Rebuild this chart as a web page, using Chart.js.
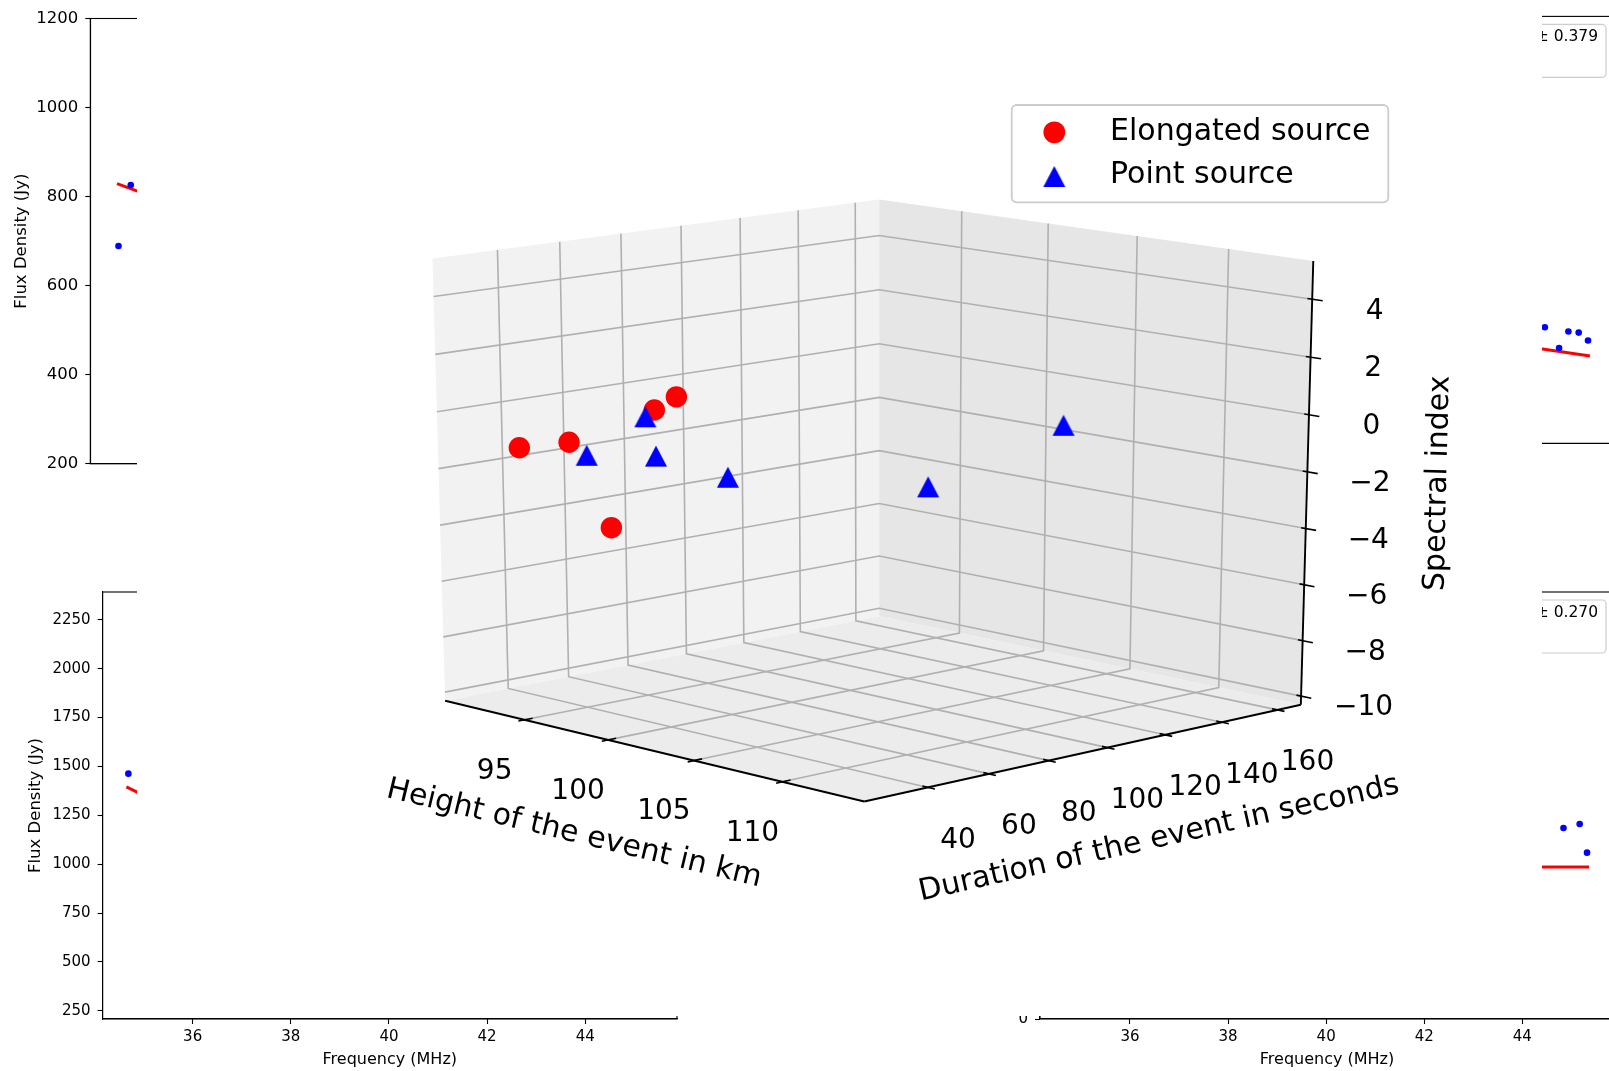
<!DOCTYPE html>
<html><head><meta charset="utf-8">
<script src="https://cdn.jsdelivr.net/npm/chart.js@4.4.0/dist/chart.umd.min.js"></script>
<style>
html,body{margin:0;padding:0;background:#fff;overflow:hidden;width:1609px;height:1071px;}
canvas.full{position:absolute;left:0;top:0;}
#c3d{position:absolute;left:137px;top:0;}
</style></head><body>
<canvas id="tl" class="full" width="1700" height="1100"></canvas>
<canvas id="bl" class="full" width="1700" height="1100"></canvas>
<canvas id="tr" class="full" width="1700" height="1100"></canvas>
<canvas id="br" class="full" width="1700" height="1100"></canvas>
<canvas id="c3d" width="1405" height="1016"></canvas>
<script>
// ================= DATA =================
const freqTicks = [36, 38, 40, 42, 44];
// top-left panel
const tlFreq = [34.74, 34.99];
const tlFlux = [689, 826];
const tlFitFreq = [34.71, 35.50];
const tlFitFlux = [829, 797];
const tlFluxTicks = [200, 400, 600, 800, 1000, 1200];
// bottom-left panel
const blFreq = [34.69];
const blFlux = [1463];
const blFitFreq = [34.65, 35.20];
const blFitFlux = [1395, 1328];
const blFluxTicks = [250, 500, 750, 1000, 1250, 1500, 1750, 2000, 2250];
// top-right panel
const trFreq = [44.46, 44.75, 44.94, 45.15, 45.34];
const trFlux = [408, 335, 393, 389, 361];
const trFitFreq = [44.00, 45.38];
const trFitFlux = [342, 307];
const trFluxTicks = [0, 250, 500, 750, 1000, 1250, 1500];
const trLegendText = '± 0.379';
// bottom-right panel
const brFreq = [44.84, 45.17, 45.32];
const brFlux = [984, 1005, 857];
const brFitFreq = [44.00, 45.36];
const brFitFlux = [783, 783];
const brFluxTicks = [0, 500, 1000, 1500, 2000];
const brLegendText = '± 0.270';

// 3D scatter
const heightTicks = [95, 100, 105, 110];
const durationTicks = [40, 60, 80, 100, 120, 140, 160];
const indexTicks = [-10, -8, -6, -4, -2, 0, 2, 4];
const elongHeight = [93.44, 95.68, 99.26, 100.91, 98.47];
const elongDuration = [28, 32, 40, 38, 30];
const elongIndex = [-1.04, -0.67, 0.70, 1.36, -3.28];
const pointHeight = [95.97, 96.90, 100.23, 102.56, 102.81, 105.54];
const pointDuration = [36, 50, 35, 45, 110, 140];
const pointIndex = [-1.16, 0.04, -0.69, -1.33, -2.82, -0.86];
const legendLabels = ['Elongated source', 'Point source'];

// ================= 3D PROJECTION (fitted to the axes box) =================
const LIM = {h: [90.1, 114.5], d: [19.5, 168.5], s: [-10.3125, 5.3125]};
const [XA, XB] = LIM.h, [YA, YB] = LIM.d, [ZA, ZB] = LIM.s;
const ANCHORS = [
  [XA, YA, ZA, 444, 701], [XB, YA, ZA, 865, 802.3], [XB, YB, ZA, 1300.7, 704.3], [XA, YB, ZA, 879.3, 616],
  [XA, YA, ZB, 434.3, 256], [XA, YB, ZB, 879.3, 199.3], [XB, YB, ZB, 1311.7, 260],
  [95, YA, ZA, 525, 720.5], [100, YA, ZA, 609.3, 740.8], [105, YA, ZA, 695, 761.4], [110, YA, ZA, 783.3, 782.6],
  [XB, 40, ZA, 926.7, 788.4], [XB, 60, ZA, 986.7, 774.9], [XB, 80, ZA, 1048.3, 761.1], [XB, 100, ZA, 1107.7, 747.7],
  [XB, 120, ZA, 1165, 734.8], [XB, 140, ZA, 1222.7, 721.8], [XB, 160, ZA, 1278.3, 709.3],
  [XB, YB, 4, 1310.7, 299.3], [XB, YB, 2, 1309.3, 356.7], [XB, YB, 0, 1307.9, 413.3], [XB, YB, -2, 1306.5, 470.7],
  [XB, YB, -4, 1305.1, 528.3], [XB, YB, -6, 1303.7, 585], [XB, YB, -8, 1302.3, 640.7], [XB, YB, -10, 1300.9, 696.7],
  [XA, YA, 4, 435.2, 296], [XA, YA, 2, 436.5, 353.7], [XA, YA, 0, 437.7, 410.7], [XA, YA, -2, 439, 467.3],
  [XA, YA, -4, 440.2, 524.3], [XA, YA, -6, 441.4, 579],
  [XA, YB, 4, 879.3, 235.7], [XA, YB, 2, 879.3, 290], [XA, YB, 0, 879.3, 344], [XA, YB, -2, 879.3, 397.3],
  [XA, YB, -4, 879.3, 450], [XA, YB, -6, 879.3, 503.3], [XA, YB, -8, 879.3, 556], [XA, YB, -10, 879.3, 607.7],
  [XA, 40, ZB, 495.7, 250.3], [XA, 60, ZB, 557.7, 242.3], [XA, 80, ZB, 619, 234.7], [XA, 100, ZB, 679, 227],
  [XA, 120, ZB, 738.3, 219.3], [XA, 140, ZB, 796, 212], [XA, 160, ZB, 852.7, 204.3],
  [95, YB, ZB, 965.7, 211.4], [100, YB, ZB, 1051.7, 223.5], [105, YB, ZB, 1140.4, 236], [110, YB, ZB, 1232.3, 248.9]
];
const U0 = 870, V0 = 500, SC = 450;
function norm(h, d, s) { return [(h - XA) / (XB - XA), (d - YA) / (YB - YA), (s - ZA) / (ZB - ZA)]; }
function solveLinear(M) {
  const n = M.length;
  for (let i = 0; i < n; i++) {
    let p = i;
    for (let r = i + 1; r < n; r++) if (Math.abs(M[r][i]) > Math.abs(M[p][i])) p = r;
    [M[i], M[p]] = [M[p], M[i]];
    for (let r = 0; r < n; r++) {
      if (r === i) continue;
      const f = M[r][i] / M[i][i];
      for (let c = i; c <= n; c++) M[r][c] -= f * M[i][c];
    }
  }
  return M.map((row, i) => row[n] / row[i]);
}
const PM = (function fit() {
  const n = 11, N = [...Array(n)].map(() => Array(n + 1).fill(0));
  const add = (row, b) => { for (let i = 0; i < n; i++) { for (let j = 0; j < n; j++) N[i][j] += row[i] * row[j]; N[i][n] += row[i] * b; } };
  for (const [h, d, s, U, V] of ANCHORS) {
    const [X, Y, Z] = norm(h, d, s), u = (U - U0) / SC, v = (V - V0) / SC;
    add([X, Y, Z, 1, 0, 0, 0, 0, -u * X, -u * Y, -u * Z], u);
    add([0, 0, 0, 0, X, Y, Z, 1, -v * X, -v * Y, -v * Z], v);
  }
  return solveLinear(N);
})();
function project(h, d, s) {
  const [X, Y, Z] = norm(h, d, s), p = PM;
  const w = p[8] * X + p[9] * Y + p[10] * Z + 1;
  return {x: U0 + SC * (p[0] * X + p[1] * Y + p[2] * Z + p[3]) / w,
          y: V0 + SC * (p[4] * X + p[5] * Y + p[6] * Z + p[7]) / w};
}

// ================= COMMON =================
Chart.defaults.font.family = "'DejaVu Sans', sans-serif";
Chart.defaults.color = '#000';
const FONT = "'DejaVu Sans', sans-serif";

const framePlugin = {
  id: 'frame',
  afterDraw(chart) {
    const {ctx, chartArea: a} = chart;
    ctx.save(); ctx.strokeStyle = '#000'; ctx.lineWidth = 1.1;
    ctx.strokeRect(a.left, a.top, a.right - a.left, a.bottom - a.top);
    const lg = chart.options.plugins.boxText;
    if (lg && lg.text) {
      const r = a.right - 8, t = a.top + 8, b = t + 53, l = a.left + 250;
      ctx.beginPath(); ctx.roundRect(l, t, r - l, b - t, 4);
      ctx.fillStyle = 'rgba(255,255,255,0.8)'; ctx.fill();
      ctx.strokeStyle = '#cccccc'; ctx.lineWidth = 1.2; ctx.stroke();
      ctx.fillStyle = '#000'; ctx.font = '15.5px ' + FONT; ctx.textAlign = 'right'; ctx.textBaseline = 'middle';
      ctx.fillText(lg.text, r - 8, t + 13);
    }
    ctx.restore();
  }
};

function panel(id, area, o) {
  const W = 1700, H = 1100, XH = 50;
  const datasets = [
    {data: o.fitF.map((f, i) => ({x: f, y: o.fitV[i]})), showLine: true, borderColor: '#ff0000', borderWidth: 3, pointRadius: 0, order: 1},
    {data: o.f.map((f, i) => ({x: f, y: o.v[i]})), pointRadius: 3.3, backgroundColor: '#0000ff', borderWidth: 0, order: 0}
  ];
  const tickGrid = {drawOnChartArea: false, drawTicks: true, tickLength: 5, color: '#000', tickWidth: 1.1};
  const border = {display: true, color: '#000', width: 1.1};
  return new Chart(document.getElementById(id), {
    type: 'scatter',
    data: {datasets},
    options: {
      responsive: false, animation: false, devicePixelRatio: 1, events: [],
      layout: {autoPadding: false, padding: {left: area.l - o.yw, top: area.t, right: W - area.r, bottom: H - area.b - XH}},
      plugins: {legend: {display: false}, tooltip: {enabled: false}, boxText: {text: o.legend || ''}},
      scales: {
        x: {type: 'linear', min: 34.165, max: 45.87,
            afterFit: s => { s.height = XH; },
            afterBuildTicks: s => { s.ticks = freqTicks.map(v => ({value: v})); },
            ticks: {font: {size: o.xfs}, color: '#000', padding: 4, maxRotation: 0, autoSkip: false, callback: v => String(v)},
            grid: tickGrid, border,
            title: {display: true, text: 'Frequency (MHz)', font: {size: 16}, color: '#000', padding: {top: 0, bottom: 0}}},
        y: {type: 'linear', min: o.ymin, max: o.ymax,
            afterFit: s => { s.width = o.yw; },
            afterBuildTicks: s => { s.ticks = o.yticks.map(v => ({value: v})); },
            ticks: {font: {size: o.yfs}, color: '#000', padding: 7, callback: v => String(v)},
            grid: tickGrid, border,
            title: {display: true, text: 'Flux Density (Jy)', font: {size: 16.5}, color: '#000', padding: {top: o.ylp, bottom: 0}}}
      }
    },
    plugins: [framePlugin]
  });
}

panel('tl', {l: 90.3, t: 18.5, r: 664.3, b: 463.8},
  {f: tlFreq, v: tlFlux, fitF: tlFitFreq, fitV: tlFitFlux, ymin: 200, ymax: 1200, yticks: tlFluxTicks, yw: 90.3, ylp: 12, yfs: 16.5, xfs: 15});
panel('bl', {l: 102.6, t: 592, r: 677, b: 1019},
  {f: blFreq, v: blFlux, fitF: blFitFreq, fitV: blFitFlux, ymin: 208, ymax: 2392, yticks: blFluxTicks, yw: 102.6, ylp: 26, yfs: 15, xfs: 15});
panel('tr', {l: 1040, t: 16.4, r: 1614, b: 443.3},
  {f: trFreq, v: trFlux, fitF: trFitFreq, fitV: trFitFlux, ymin: 0, ymax: 1500, yticks: trFluxTicks, yw: 100, ylp: 20, yfs: 15, xfs: 15, legend: trLegendText});
panel('br', {l: 1040, t: 592, r: 1614, b: 1019},
  {f: brFreq, v: brFlux, fitF: brFitFreq, fitV: brFitFlux, ymin: 0, ymax: 2200, yticks: brFluxTicks, yw: 100, ylp: 20, yfs: 15, xfs: 15, legend: brLegendText});

// ================= 3D CHART =================
function triangle(w, h, color) {
  const c = document.createElement('canvas');
  c.width = Math.ceil(w) + 2; c.height = Math.ceil(h) + 2;
  const g = c.getContext('2d'); g.fillStyle = color;
  g.beginPath(); g.moveTo(c.width / 2, 1); g.lineTo(c.width / 2 + w / 2, 1 + h); g.lineTo(c.width / 2 - w / 2, 1 + h); g.closePath(); g.fill();
  return c;
}
const triImg = triangle(22, 21, '#0000ff');

const threeD = {
  id: 'threeD',
  beforeDraw(chart) { const c = chart.ctx; c.save(); c.fillStyle = '#fff'; c.fillRect(0, 0, chart.width, chart.height); c.restore(); },
  beforeDatasetsDraw(chart) {
    const ctx = chart.ctx, sx = chart.scales.x, sy = chart.scales.y;
    const P = (h, d, s) => { const q = project(h, d, s); return [sx.getPixelForValue(q.x), sy.getPixelForValue(q.y)]; };
    const poly = (pts, fill) => { ctx.beginPath(); pts.forEach((p, i) => { const q = P(...p); i ? ctx.lineTo(q[0], q[1]) : ctx.moveTo(q[0], q[1]); }); ctx.closePath(); ctx.fillStyle = fill; ctx.fill(); };
    const line = (pts) => { ctx.beginPath(); pts.forEach((p, i) => { const q = P(...p); i ? ctx.lineTo(q[0], q[1]) : ctx.moveTo(q[0], q[1]); }); ctx.stroke(); };
    ctx.save();
    poly([[XA, YA, ZA], [XA, YB, ZA], [XA, YB, ZB], [XA, YA, ZB]], '#f2f2f2');
    poly([[XA, YB, ZA], [XB, YB, ZA], [XB, YB, ZB], [XA, YB, ZB]], '#e6e6e6');
    poly([[XA, YA, ZA], [XB, YA, ZA], [XB, YB, ZA], [XA, YB, ZA]], '#ececec');
    ctx.strokeStyle = '#b0b0b0'; ctx.lineWidth = 1.6; ctx.lineJoin = 'miter';
    heightTicks.forEach(h => line([[h, YA, ZA], [h, YB, ZA], [h, YB, ZB]]));
    durationTicks.forEach(d => line([[XB, d, ZA], [XA, d, ZA], [XA, d, ZB]]));
    indexTicks.forEach(s => line([[XA, YA, s], [XA, YB, s], [XB, YB, s]]));
    ctx.strokeStyle = '#000'; ctx.lineWidth = 1.9;
    line([[XA, YA, ZA], [XB, YA, ZA]]); line([[XB, YA, ZA], [XB, YB, ZA]]); line([[XB, YB, ZA], [XB, YB, ZB]]);
    ctx.lineWidth = 1.6;
    heightTicks.forEach(h => line([[h, YA - 2.0, ZA], [h, YA + 2.6, ZA]]));
    durationTicks.forEach(d => line([[XB - 0.3, d, ZA], [XB + 0.38, d, ZA]]));
    indexTicks.forEach(s => line([[XB - 0.25, YB, s], [XB + 0.55, YB, s]]));
    ctx.fillStyle = '#000'; ctx.textAlign = 'center'; ctx.textBaseline = 'middle'; ctx.font = '28px ' + FONT;
    const lab = (t) => String(t).replace('-', '\u2212');
    heightTicks.forEach(h => { const q = P(h, YA, ZA); ctx.fillText(lab(h), q[0] - 30, q[1] + 51.5); });
    durationTicks.forEach(d => { const q = P(XB, d, ZA); ctx.fillText(lab(d), q[0] + 30, q[1] + 53); });
    indexTicks.forEach(s => { const q = P(XB, YB, s); ctx.fillText(lab(s), q[0] + 62.5, q[1] + 12); });
    ctx.font = '30px ' + FONT;
    const title = (t, X, Y, deg) => { ctx.save(); ctx.translate(sx.getPixelForValue(X), sy.getPixelForValue(Y)); ctx.rotate(deg * Math.PI / 180); ctx.fillText(t, 0, 0); ctx.restore(); };
    title('Height of the event in km', 574, 834, 13.5);
    title('Duration of the event in seconds', 1159, 839, -12.68);
    title('Spectral index', 1438.3, 483.3, -88.6);
    ctx.restore();
  },
  afterDatasetsDraw(chart) {
    const ctx = chart.ctx, sx = chart.scales.x, sy = chart.scales.y;
    const X = v => sx.getPixelForValue(v), Y = v => sy.getPixelForValue(v);
    ctx.save();
    ctx.beginPath(); ctx.roundRect(X(1011.7), Y(105), X(1388.3) - X(1011.7), Y(202.3) - Y(105), 5);
    ctx.fillStyle = 'rgba(255,255,255,0.8)'; ctx.fill(); ctx.strokeStyle = '#cccccc'; ctx.lineWidth = 1.8; ctx.stroke();
    ctx.fillStyle = '#ff0000'; ctx.beginPath(); ctx.arc(X(1054.3), Y(132.3), 10.9, 0, Math.PI * 2); ctx.fill();
    ctx.drawImage(triImg, X(1054.3) - triImg.width / 2, Y(176.5) - triImg.height / 2);
    ctx.fillStyle = '#000'; ctx.font = '30px ' + FONT; ctx.textAlign = 'left'; ctx.textBaseline = 'middle';
    ctx.fillText(legendLabels[0], X(1110), Y(132.5));
    ctx.fillText(legendLabels[1], X(1110), Y(175.5));
    ctx.restore();
  }
};

new Chart(document.getElementById('c3d'), {
  type: 'scatter',
  data: {datasets: [
    {label: legendLabels[1], data: pointHeight.map((h, i) => project(h, pointDuration[i], pointIndex[i])),
     pointStyle: triImg, pointRadius: 11, backgroundColor: '#0000ff', borderWidth: 0, order: 0, clip: false},
    {label: legendLabels[0], data: elongHeight.map((h, i) => project(h, elongDuration[i], elongIndex[i])),
     pointStyle: 'circle', pointRadius: 10.7, backgroundColor: '#ff0000', borderWidth: 0, order: 1, clip: false}
  ]},
  options: {
    responsive: false, animation: false, devicePixelRatio: 1, events: [],
    layout: {autoPadding: false, padding: 0},
    plugins: {legend: {display: false}, tooltip: {enabled: false}},
    scales: {x: {type: 'linear', display: false, min: 137, max: 1542},
             y: {type: 'linear', display: false, min: 0, max: 1016, reverse: true}}
  },
  plugins: [threeD]
});
</script>
</body></html>
